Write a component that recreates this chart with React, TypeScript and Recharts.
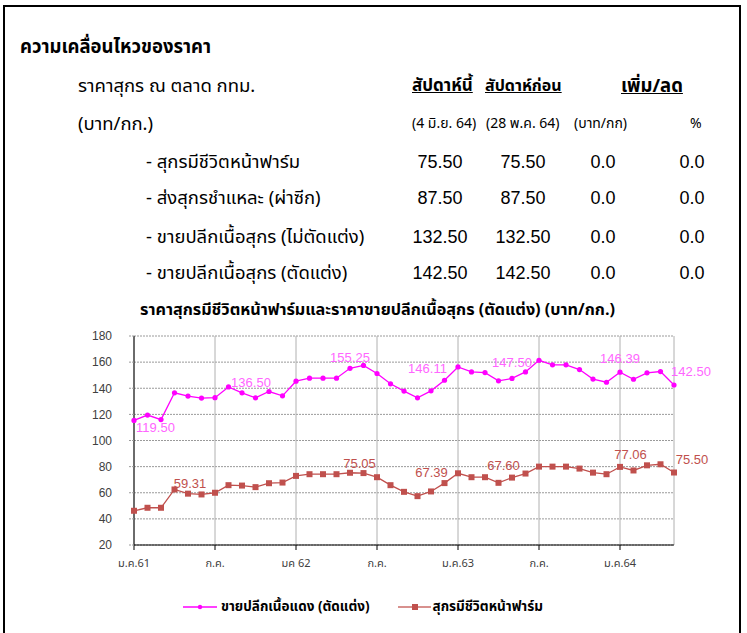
import React from "react";
import { LineChart, Line, XAxis, YAxis, CartesianGrid, LabelList } from "recharts";

// ---- data ----
const monthIndex = [0,1,2,3,4,5,6,7,8,9,10,11,12,13,14,15,16,17,18,19,20,21,22,23,24,25,26,27,28,29,30,31,32,33,34,35,36,37,38,39,40];
const retailCut = [115.4,119.5,116,136.5,134,132.5,132.75,141,136.5,132.7,137.5,134.2,145.4,147.7,147.7,147.7,155.25,157.5,151.3,143.4,137.8,132.7,138,146.11,156.3,152.5,152,145.7,147.5,152.5,161.4,157.9,157.9,154.3,147,144.6,152.3,146.9,151.8,152.8,142.5];
const livePig = [46.2,48.5,48.5,62.5,59.31,58.7,60,65.8,65.5,64.3,67.3,67.8,72.9,74.2,74.2,74.2,75.3,75.05,71.9,65.8,60.7,57.4,61,67.39,74.9,71.9,71.9,67.6,71.6,74.7,80,80,80,78.5,75.4,74.2,79.8,77.06,81,81.8,75.5];
const xTicks = [0,6,12,18,24,30,36];
const xTickLabels = ["ม.ค.61","ก.ค.","มค 62","ก.ค.","ม.ค.63","ก.ค.","ม.ค.64"];
const yTicks = [20,40,60,80,100,120,140,160,180];
const retailLabelIdx = [1,8,16,23,28,36,40];
const retailLabelText = ["119.50","136.50","155.25","146.11","147.50","146.39","142.50"];
const liveLabelIdx = [4,17,23,27,37,40];
const liveLabelText = ["59.31","75.05","67.39","67.60","77.06","75.50"];

const seriesNames = ["ขายปลีกเนื้อแดง (ตัดแต่ง)", "สุกรมีชีวิตหน้าฟาร์ม"];

const tableRows = [
  { name: "- สุกรมีชีวิตหน้าฟาร์ม", cur: "75.50", prev: "75.50", diff: "0.0", pct: "0.0" },
  { name: "- ส่งสุกรชำแหละ (ผ่าซีก)", cur: "87.50", prev: "87.50", diff: "0.0", pct: "0.0" },
  { name: "- ขายปลีกเนื้อสุกร (ไม่ตัดแต่ง)", cur: "132.50", prev: "132.50", diff: "0.0", pct: "0.0" },
  { name: "- ขายปลีกเนื้อสุกร (ตัดแต่ง)", cur: "142.50", prev: "142.50", diff: "0.0", pct: "0.0" },
];

const chartData = monthIndex.map((m, i) => ({
  m,
  retail: retailCut[i],
  live: livePig[i],
  retailLabel: retailLabelText[retailLabelIdx.indexOf(i)] ?? null,
  liveLabel: liveLabelText[liveLabelIdx.indexOf(i)] ?? null,
}));

// ---- styles ----
const PINK = "#FF00FF";
const PINK_TEXT = "#FF66FF";
const RED = "#C0504D";
const THAI = "'Noto Sans Thai', 'Noto Sans', 'DejaVu Sans', sans-serif";
const NUM = "'Liberation Sans', Arial, sans-serif";

const retailOffsets: Record<number, [number, number]> = {
  1: [8, 17], 8: [9, -6], 16: [0, -6], 23: [-17, -7], 28: [0, -11], 36: [0, -9], 40: [17, -9],
};
const liveOffsets: Record<number, [number, number]> = {
  4: [2, -6], 17: [-4, -5], 23: [-13, -6], 27: [5, -13], 37: [-3, -11], 40: [18, -9],
};

const makeLabel = (color: string, offsets: Record<number, [number, number]>) => (props: any) => {
  const { x, y, value, index } = props;
  if (value == null) return null;
  const off = offsets[index] || [0, -8];
  return (
    <text x={x + off[0]} y={y + off[1]} fill={color} fontSize={13} fontFamily={NUM} textAnchor="middle">
      {value}
    </text>
  );
};

const SquareDot = (props: any) => {
  const { cx, cy } = props;
  if (cx == null || cy == null) return null;
  return <rect x={cx - 3} y={cy - 3} width={6} height={6} fill={RED} />;
};
const PinkDot = (props: any) => {
  const { cx, cy } = props;
  if (cx == null || cy == null) return null;
  return <circle cx={cx} cy={cy} r={2.6} fill={PINK} />;
};

const LegendBlock = () => (
  <div style={{ position: "absolute", left: 183, top: 597, display: "flex", alignItems: "center", fontFamily: THAI, fontWeight: "bold", fontSize: 13.5, lineHeight: "20px", color: "#000" }}>
    <svg width={36} height={10}>
      <line x1={0} y1={5} x2={34} y2={5} stroke={PINK} strokeWidth={1.5} />
      <circle cx={17} cy={5} r={2.2} fill={PINK} />
    </svg>
    <span style={{ marginLeft: 2 }}>{seriesNames[0]}</span>
    <svg width={33} height={10} style={{ marginLeft: 28 }}>
      <line x1={0} y1={5} x2={33} y2={5} stroke="#D8918E" strokeWidth={2} />
      <rect x={14} y={2} width={6} height={6} fill={RED} />
    </svg>
    <span style={{ marginLeft: 2 }}>{seriesNames[1]}</span>
  </div>
);

const t = (x: number, cy: number, s: string, extra: React.CSSProperties = {}) => (
  <div style={{ position: "absolute", left: x, top: cy - 14, whiteSpace: "nowrap", fontFamily: THAI, fontSize: 18.5, lineHeight: "28px", color: "#000", ...extra }}>{s}</div>
);

const colCenters = [440, 523, 603, 692];

export default function App() {
  return (
    <div style={{ position: "absolute", left: 0, top: 0, width: 747, height: 633, background: "#fff", overflow: "hidden" }}>
      <div style={{ position: "absolute", left: 3, top: 5, width: 734, height: 700, borderLeft: "2px solid #000", borderTop: "2px solid #000", borderRight: "2px solid #000" }} />
      {t(20, 47, "ความเคลื่อนไหวของราคา", { fontWeight: "bold", fontSize: 18.5 })}
      {t(78, 86, "ราคาสุกร ณ ตลาด กทม.")}
      {t(412, 86, "สัปดาห์นี้", { fontWeight: "bold", textDecoration: "underline", fontSize: 17 })}
      {t(485, 86, "สัปดาห์ก่อน", { fontWeight: "bold", textDecoration: "underline", fontSize: 16 })}
      {t(621, 86, "เพิ่ม/ลด", { fontWeight: "bold", textDecoration: "underline", fontSize: 18.5 })}
      {t(78, 124, "(บาท/กก.)")}
      {t(412, 124, "(4 มิ.ย. 64)", { fontSize: 14 })}
      {t(486, 124, "(28 พ.ค. 64)", { fontSize: 14 })}
      {t(574, 124, "(บาท/กก)", { fontSize: 14 })}
      {t(690, 124, "%", { fontSize: 14 })}
      {tableRows.map((r, i) => {
        const cy = [162, 198, 237, 273][i];
        const vals = [r.cur, r.prev, r.diff, r.pct];
        return (
          <React.Fragment key={i}>
            {t(146, cy, r.name)}
            {vals.map((v, j) => (
              <React.Fragment key={j}>
                {t(colCenters[j] - 50, cy, v, { width: 100, textAlign: "center", fontSize: 18, fontFamily: NUM })}
              </React.Fragment>
            ))}
          </React.Fragment>
        );
      })}
      {t(140, 310, "ราคาสุกรมีชีวิตหน้าฟาร์มและราคาขายปลีกเนื้อสุกร (ตัดแต่ง) (บาท/กก.)", { fontWeight: "bold", fontSize: 16.2 })}
      <div style={{ position: "absolute", left: 0, top: 280 }}>
        <LineChart width={747} height={353} data={chartData} margin={{ top: 56, right: 73, bottom: 58, left: 0 }}>
          <CartesianGrid horizontal={true} vertical={false} stroke="#9a9a9a" strokeDasharray="2 1" />
          <CartesianGrid horizontal={false} vertical={true} stroke="#b0b0b0" />
          <XAxis
            dataKey="m"
            type="number"
            domain={[0, 40]}
            ticks={xTicks}
            tickFormatter={(v: number) => xTickLabels[xTicks.indexOf(v)] ?? ""}
            height={30}
            tickSize={5}
            tickMargin={9}
            stroke="#000"
            tick={{ fontSize: 11, fill: "#404040", fontFamily: THAI }}
            interval={0}
          />
          <YAxis
            domain={[20, 180]}
            ticks={yTicks}
            width={134}
            tickSize={5}
            tickMargin={17}
            stroke="#000"
            tickLine={{ stroke: "#9a9a9a", strokeDasharray: "2 1" }}
            tick={{ fontSize: 12, fill: "#404040", fontFamily: NUM }}
            interval={0}
          />
          <Line type="linear" dataKey="retail" stroke={PINK} strokeWidth={1.3} dot={<PinkDot />} isAnimationActive={false}>
            <LabelList dataKey="retailLabel" content={makeLabel(PINK_TEXT, retailOffsets)} />
          </Line>
          <Line type="linear" dataKey="live" stroke={RED} strokeWidth={1.3} dot={<SquareDot />} isAnimationActive={false}>
            <LabelList dataKey="liveLabel" content={makeLabel(RED, liveOffsets)} />
          </Line>
        </LineChart>
      </div>
      <LegendBlock />
    </div>
  );
}
